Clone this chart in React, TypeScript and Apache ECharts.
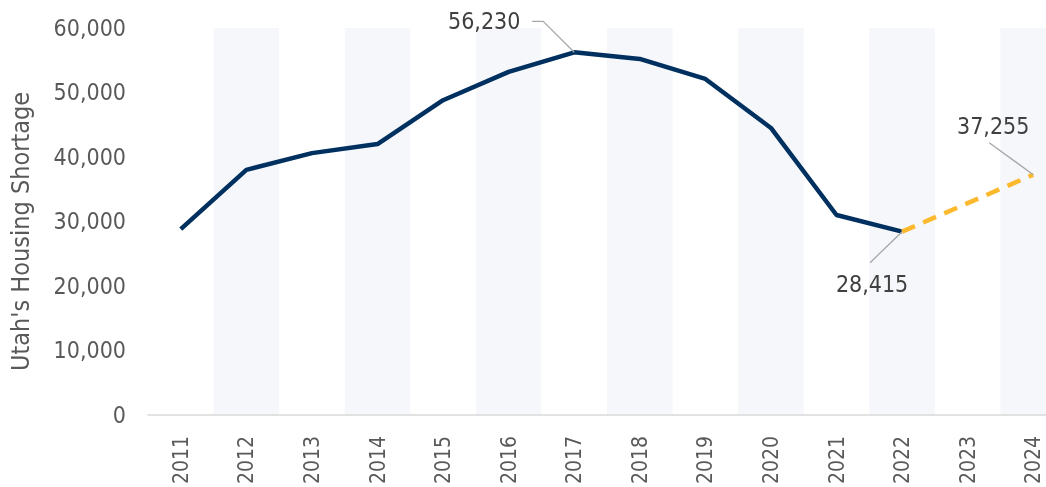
import React, { useEffect, useRef } from "react";
import * as echarts from "echarts";

const years = ["2011","2012","2013","2014","2015","2016","2017","2018","2019","2020","2021","2022","2023","2024"];
const actual: (number | string)[] = [28800, 38000, 40600, 42000, 48800, 53200, 56230, 55200, 52100, 44500, 31000, 28415, "-", "-"];
const projected: (number | string)[] = ["-", "-", "-", "-", "-", "-", "-", "-", "-", "-", "-", 28415, 32835, 37255];
const yTicks = { min: 0, max: 60000, interval: 10000 };

const FONT = "DejaVu Sans Condensed";
const fmt = (v: number) => v.toLocaleString("en-US");

export default function App() {
  const ref = useRef<HTMLDivElement>(null);
  useEffect(() => {
    document.body.style.margin = "0";
    document.body.style.overflow = "hidden";
    const chart = echarts.init(ref.current!, null, { renderer: "svg" });
    const actualLabels = new Set([6]);
    const projLabels = new Set([11, 13]);
    // label offsets (dx, dy) relative to default "top" position
    const offsets: Record<string, [number, number]> = {
      a6: [-90, -15],
      p11: [-30, 69],
      p13: [-40, -32],
    };
    // leader line shapes relative to the data point
    const leaders: { series: number; idx: number; pts: [number, number][] }[] = [
      { series: 0, idx: 6, pts: [[0, 0], [-31, -31], [-42, -31]] },
      { series: 1, idx: 11, pts: [[0, 0], [-32, 31]] },
      { series: 1, idx: 13, pts: [[0, 0], [-44, -32]] },
    ];
    const labelStyle = {
      position: "top",
      color: "#404040",
      fontSize: 23,
      fontFamily: FONT,
      formatter: (p: any) => fmt(p.value),
    };
    chart.setOption({
      animation: false,
      textStyle: { fontFamily: FONT },
      grid: { left: 148, top: 28, right: 0, bottom: 72, containLabel: false },
      xAxis: {
        type: "category",
        data: years,
        boundaryGap: true,
        axisLine: { lineStyle: { color: "#d9d9d9", width: 1.5 } },
        axisTick: { show: false },
        axisLabel: { rotate: 90, color: "#595959", fontSize: 21, fontFamily: FONT, margin: 21 },
        splitArea: { show: true, areaStyle: { color: ["rgba(255,255,255,0)", "#F5F7FA"] } },
        splitLine: { show: false },
      },
      yAxis: {
        type: "value",
        min: yTicks.min,
        max: yTicks.max,
        interval: yTicks.interval,
        name: "Utah's Housing Shortage",
        nameLocation: "middle",
        nameGap: 115,
        nameTextStyle: { color: "#595959", fontSize: 25, fontFamily: FONT, padding: [0, 20, 0, 0] },
        axisLine: { show: false },
        axisTick: { show: false },
        splitLine: { show: false },
        axisLabel: { color: "#595959", fontSize: 23, fontFamily: FONT, margin: 22, formatter: (v: number) => fmt(v) },
      },
      series: [
        {
          type: "line",
          data: actual.map((v, i) => ({ value: v, label: { show: actualLabels.has(i) } })),
          symbol: "circle",
          symbolSize: 0.1,
          showSymbol: true,
          lineStyle: { color: "#00305F", width: 4.5 },
          itemStyle: { color: "#00305F" },
          label: labelStyle,
          labelLayout: (p: any) => {
            const o = offsets["a" + p.dataIndex];
            return o ? { dx: o[0], dy: o[1] } : {};
          },
          z: 3,
        },
        {
          type: "line",
          data: projected.map((v, i) => ({ value: v, label: { show: projLabels.has(i) } })),
          symbol: "circle",
          symbolSize: 0.1,
          showSymbol: true,
          lineStyle: { color: "#FDB92E", width: 4.5, type: [14, 9] },
          itemStyle: { color: "#FDB92E" },
          label: labelStyle,
          labelLayout: (p: any) => {
            const o = offsets["p" + p.dataIndex];
            return o ? { dx: o[0], dy: o[1] } : {};
          },
          z: 4,
        },
      ],
    });
    const seriesData = [actual, projected];
    const graphic = leaders.map((l) => {
      const v = seriesData[l.series][l.idx] as number;
      const [px, py] = chart.convertToPixel({ seriesIndex: l.series }, [l.idx, v]) as number[];
      return {
        type: "polyline",
        z: 10,
        shape: { points: l.pts.map(([dx, dy]) => [px + dx, py + dy]) },
        style: { stroke: "#a6a6a6", lineWidth: 1.3, fill: "none" },
        silent: true,
      };
    });
    chart.setOption({ graphic });
    return () => chart.dispose();
  }, []);
  return <div ref={ref} style={{ position: "fixed", left: 0, top: 0, width: 1066, height: 487 }} />;
}
